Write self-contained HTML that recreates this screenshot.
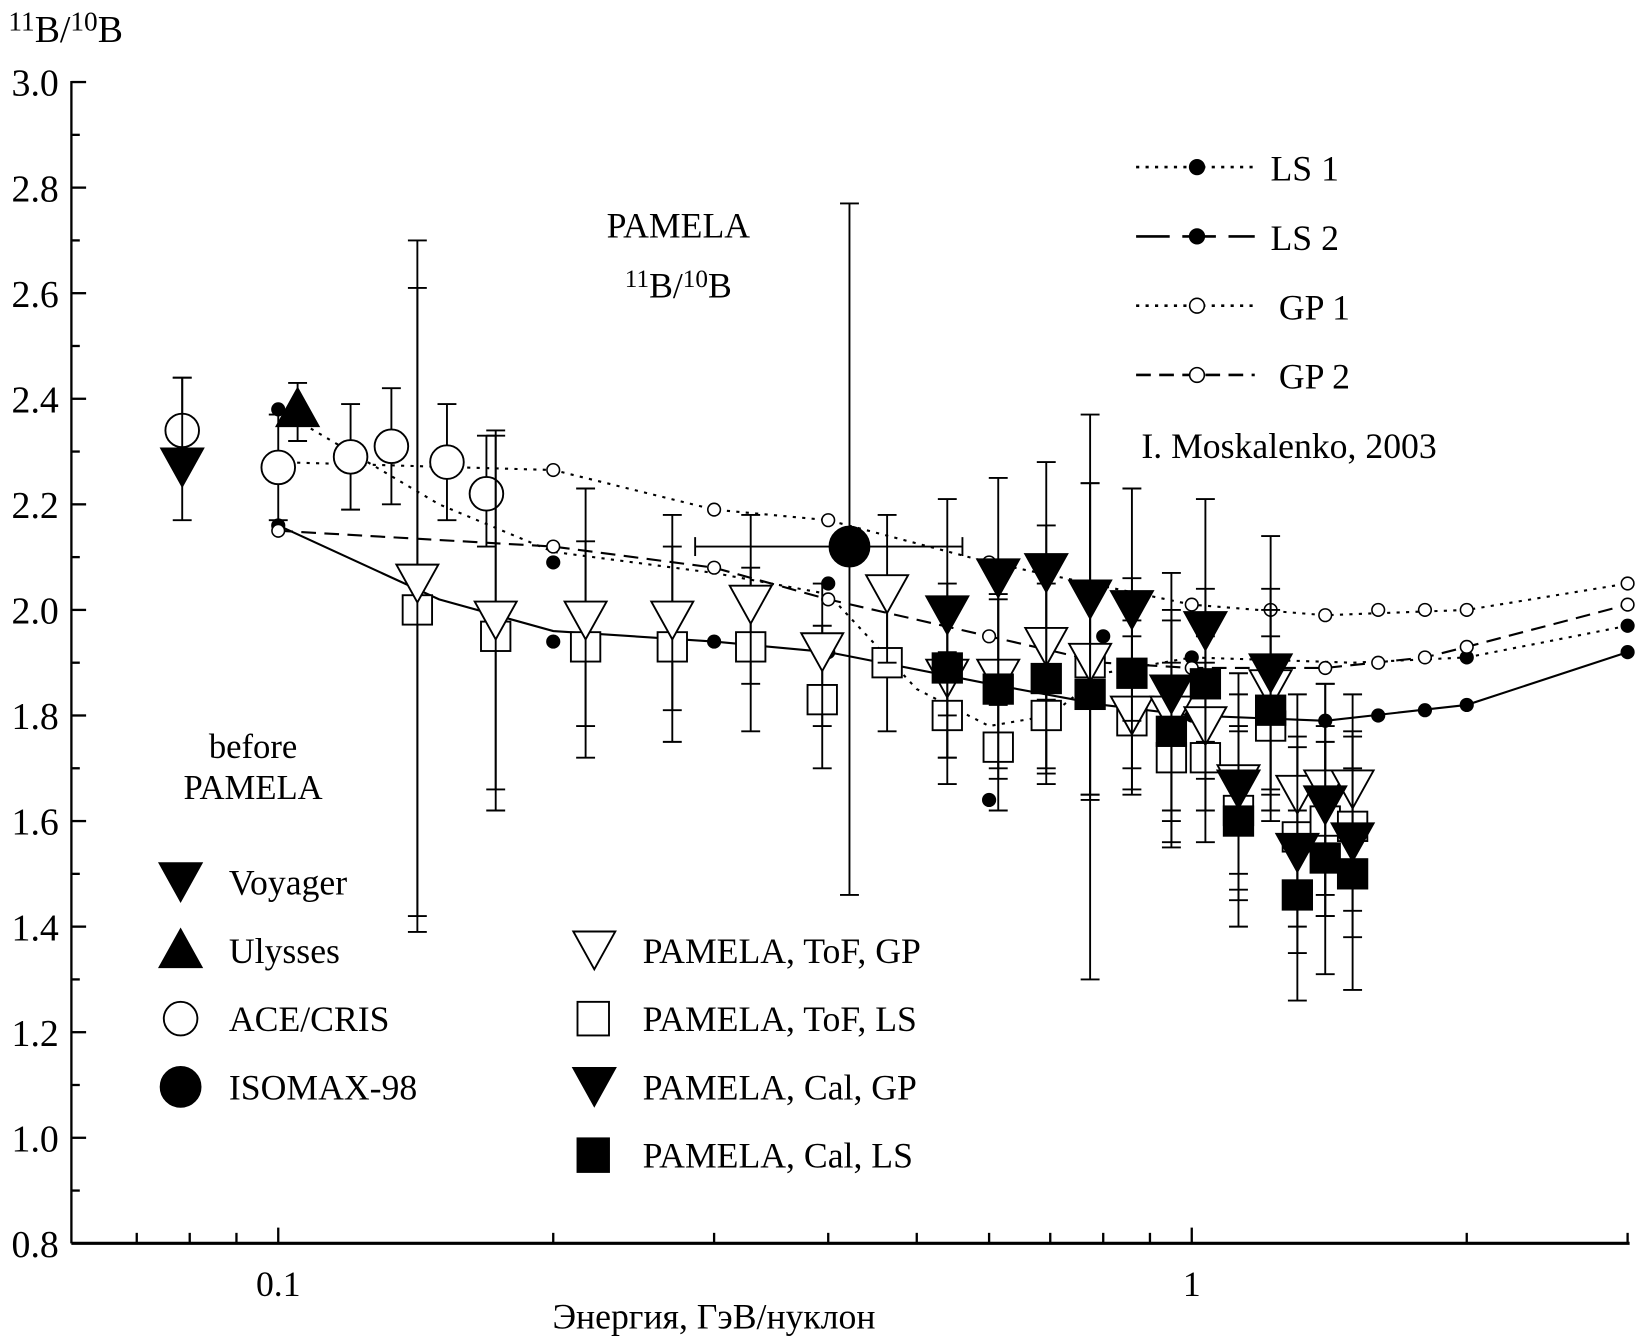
<!DOCTYPE html>
<html><head><meta charset="utf-8"><style>
html,body{margin:0;padding:0;background:#fff;}
svg{display:block;font-family:"Liberation Serif",serif;}
</style></head><body>
<svg id="chart" width="1638" height="1338" viewBox="0 0 1560 1274" xmlns="http://www.w3.org/2000/svg"></svg>
<script>
// ---- data ----
const xTicksMajor = [0.1, 1];
const xTickLabels = ["0.1", "1"];
const xTicksMinor = [0.07,0.08,0.09,0.2,0.3,0.4,0.5,0.6,0.7,0.8,0.9,2,3];
const yTicks = [0.8,1.0,1.2,1.4,1.6,1.8,2.0,2.2,2.4,2.6,2.8,3.0];
const yTickLabels = ["0.8","1.0","1.2","1.4","1.6","1.8","2.0","2.2","2.4","2.6","2.8","3.0"];

const voyagerE = [0.0785]; const voyagerV = [2.27]; const voyagerLo=[2.17]; const voyagerHi=[2.44];
const ulyssesE = [0.105]; const ulyssesV = [2.38]; const ulyssesLo=[2.32]; const ulyssesHi=[2.43];
const aceE = [0.0785,0.1,0.12,0.133,0.153,0.169];
const aceV = [2.34,2.27,2.29,2.31,2.28,2.22];
const aceLo = [2.29,2.17,2.19,2.20,2.17,2.12];
const aceHi = [2.44,2.37,2.39,2.42,2.39,2.33];
const isomaxE=[0.422]; const isomaxV=[2.12]; const isomaxLo=[1.46]; const isomaxHi=[2.77];
const isomaxELo=[0.286]; const isomaxEHi=[0.561];

const pamE = [0.142,0.173,0.217,0.27,0.329,0.394,0.464,0.54,0.614,0.693,0.774,0.86,0.95,1.035,1.125,1.22,1.305,1.40,1.50];
const tofGPV = [2.05,1.98,1.98,1.98,2.01,1.92,2.03,1.87,1.87,1.93,1.90,1.80,1.80,1.78,1.67,1.85,1.65,1.66,1.66];
const tofGPLo= [1.42,1.66,1.78,1.81,1.86,1.78,1.90,1.72,1.70,1.70,1.65,1.66,1.60,1.62,1.50,1.66,1.45,1.46,1.49];
const tofGPHi= [2.70,2.34,2.23,2.18,2.18,2.05,2.18,2.02,2.03,2.16,2.24,1.98,2.00,1.95,1.84,2.04,1.84,1.86,1.84];
const tofLSV = [2.00,1.95,1.93,1.93,1.93,1.83,1.90,1.80,1.74,1.80,1.90,1.79,1.72,1.72,1.62,1.78,1.57,1.60,1.59];
const tofLSLo= [1.39,1.62,1.72,1.75,1.77,1.70,1.77,1.67,1.62,1.67,1.65,1.65,1.55,1.56,1.45,1.60,1.40,1.42,1.43];
const tofLSHi= [2.61,2.33,2.13,2.12,2.08,1.97,2.03,1.92,1.87,1.95,2.24,1.95,1.90,1.90,1.78,1.95,1.74,1.78,1.76];
const calE = [0.54,0.614,0.693,0.774,0.86,0.95,1.035,1.125,1.22,1.305,1.40,1.50];
const calGPV = [1.99,2.06,2.07,2.02,2.00,1.84,1.96,1.66,1.88,1.54,1.63,1.56];
const calGPLo= [1.80,1.82,1.83,1.30,1.79,1.62,1.75,1.47,1.65,1.35,1.42,1.38];
const calGPHi= [2.21,2.25,2.28,2.37,2.23,2.07,2.21,1.88,2.14,1.76,1.86,1.77];
const calLSV = [1.89,1.85,1.87,1.84,1.88,1.77,1.86,1.60,1.81,1.46,1.53,1.50];
const calLSLo= [1.72,1.68,1.69,1.64,1.70,1.56,1.68,1.40,1.62,1.26,1.31,1.28];
const calLSHi= [2.05,2.02,2.05,2.04,2.06,1.98,2.04,1.77,2.00,1.62,1.75,1.70];

const ls1LineE=[0.1,0.15,0.2,0.3,0.4,0.5,0.6,0.7,0.8,1.0,1.5,2.0,3.0];
const ls1LineV=[2.38,2.20,2.11,2.07,2.03,1.85,1.78,1.80,1.88,1.91,1.90,1.91,1.97];
const ls1DotE=[0.1,0.2,0.4,0.6,0.8,1.0,2.0,3.0];
const ls1DotV=[2.38,2.09,2.05,1.64,1.95,1.91,1.91,1.97];
const ls2LineE=[0.1,0.15,0.2,0.3,0.4,0.6,0.8,1.0,1.4,2.0,3.0];
const ls2LineV=[2.16,2.02,1.96,1.94,1.92,1.86,1.82,1.80,1.79,1.82,1.92];
const ls2DotE=[0.1,0.2,0.3,0.4,1.0,1.4,1.6,1.8,2.0,3.0];
const ls2DotV=[2.16,1.94,1.94,1.92,1.80,1.79,1.80,1.81,1.82,1.92];
const gp1LineE=[0.1,0.2,0.3,0.4,0.6,1.0,1.4,2.0,3.0];
const gp1LineV=[2.28,2.265,2.19,2.17,2.09,2.01,1.99,2.0,2.05];
const gp1DotE=[0.2,0.3,0.4,0.6,1.0,1.22,1.4,1.6,1.8,2.0,3.0];
const gp1DotV=[2.265,2.19,2.17,2.09,2.01,2.0,1.99,2.0,2.0,2.0,2.05];
const gp2LineE=[0.1,0.2,0.3,0.4,0.6,0.8,1.0,1.4,1.8,2.0,3.0];
const gp2LineV=[2.15,2.12,2.08,2.02,1.95,1.90,1.89,1.89,1.91,1.93,2.01];
const gp2DotE=[0.1,0.2,0.3,0.4,0.6,1.0,1.4,1.6,1.8,2.0,3.0];
const gp2DotV=[2.15,2.12,2.08,2.02,1.95,1.89,1.89,1.90,1.91,1.93,2.01];

// ---- scales ----
const X0=1135, DEC=870, Y0=1184, YPER=(1184-78)/2.2;
const XMIN=68, XMAX=1552;
const xs=e=>X0+DEC*Math.log10(e);
const ys=v=>Y0-(v-0.8)*YPER;
const NS="http://www.w3.org/2000/svg";
const svg=document.getElementById('chart');
function mk(tag,attrs,parent){const el=document.createElementNS(NS,tag);for(const k in attrs)el.setAttribute(k,attrs[k]);(parent||svg).appendChild(el);return el;}
function txt(x,y,s,size,anchor,name,parent){const t=mk('text',{x:x,y:y,'font-size':size,'text-anchor':anchor||'start'},parent);t.textContent=s;


return t;}

// axes
const axes=mk('g',{stroke:'#000','stroke-width':2.2,fill:'none'});


mk('line',{x1:XMIN,y1:ys(3.0)-1,x2:XMIN,y2:ys(0.8)},axes);
mk('line',{x1:XMIN,y1:ys(0.8),x2:XMAX,y2:ys(0.8),'stroke-width':3},axes);
yTicks.forEach((v,i)=>{const y=ys(v);mk('line',{x1:XMIN,y1:y,x2:XMIN+14,y2:y},axes);
 txt(56,y+13,yTickLabels[i],36,'end','y-tick-label');
 if(v<3){const ym=ys(v+0.1);mk('line',{x1:XMIN,y1:ym,x2:XMIN+8,y2:ym},axes);}});
xTicksMajor.forEach((e,i)=>{const x=xs(e);mk('line',{x1:x,y1:ys(0.8),x2:x,y2:ys(0.8)-15},axes);txt(x,1234,xTickLabels[i],34,'middle','x-tick-label');});
xTicksMinor.forEach(e=>{const x=xs(e);mk('line',{x1:x,y1:ys(0.8),x2:x,y2:ys(0.8)-10},axes);});
txt(680,1265,"Энергия, ГэВ/нуклон",34,'middle','x-axis-title');
const yt=txt(8,40,"",36,'start','y-axis-title');
yt.innerHTML='<tspan font-size="26" dy="-11">11</tspan><tspan dy="11">B/</tspan><tspan font-size="26" dy="-11">10</tspan><tspan dy="11">B</tspan>';

// curves
function curve(E,V,dash,name){const p=mk('polyline',{points:E.map((e,i)=>xs(e)+','+ys(V[i])).join(' '),fill:'none',stroke:'#000','stroke-width':2,'stroke-dasharray':dash});

}
function dots(E,V,filled,name){E.forEach((e,i)=>{const c=mk('circle',{cx:xs(e),cy:ys(V[i]),r:6,fill:filled?'#000':'#fff',stroke:'#000','stroke-width':1.5});

});}
curve(ls1LineE,ls1LineV,'3 6','ls1-curve');
curve(ls2LineE,ls2LineV,'none','ls2-curve');
curve(gp1LineE,gp1LineV,'3 6','gp1-curve');
curve(gp2LineE,gp2LineV,'14 8','gp2-curve');
dots(ls1DotE,ls1DotV,true,'ls1-dot');dots(ls2DotE,ls2DotV,true,'ls2-dot');
dots(gp1DotE,gp1DotV,false,'gp1-dot');dots(gp2DotE,gp2DotV,false,'gp2-dot');

// markers
function marker(type,x,y,parent){const g=parent||svg;let el;
 if(type==='tridown')el=mk('polygon',{points:`${x-20},${y-18} ${x+20},${y-18} ${x},${y+18}`},g);
 else if(type==='triup')el=mk('polygon',{points:`${x-20},${y+16} ${x+20},${y+16} ${x},${y-20}`},g);
 else if(type==='square')el=mk('rect',{x:x-14,y:y-14,width:28,height:28},g);
 else if(type==='circle')el=mk('circle',{cx:x,cy:y,r:16},g);
 else if(type==='bigcircle')el=mk('circle',{cx:x,cy:y,r:19},g);
 return el;}
function series(E,V,Lo,Hi,type,filled,name){E.forEach((e,i)=>{const g=mk('g',{stroke:'#000','stroke-width':1.8,fill:filled?'#000':'#fff'});
 
 
 const x=xs(e);
 mk('line',{x1:x,y1:ys(Lo[i]),x2:x,y2:ys(Hi[i])},g);
 mk('line',{x1:x-9,y1:ys(Lo[i]),x2:x+9,y2:ys(Lo[i])},g);
 mk('line',{x1:x-9,y1:ys(Hi[i]),x2:x+9,y2:ys(Hi[i])},g);
 marker(type,x,ys(V[i]),g);});}
series(aceE,aceV,aceLo,aceHi,'circle',false,'ace-cris-point');
series(voyagerE,voyagerV,voyagerLo,voyagerHi,'tridown',true,'voyager-point');
series(ulyssesE,ulyssesV,ulyssesLo,ulyssesHi,'triup',true,'ulysses-point');
series(pamE,tofLSV,tofLSLo,tofLSHi,'square',false,'pamela-tof-ls-point');
series(pamE,tofGPV,tofGPLo,tofGPHi,'tridown',false,'pamela-tof-gp-point');
series(calE,calLSV,calLSLo,calLSHi,'square',true,'pamela-cal-ls-point');
series(calE,calGPV,calGPLo,calGPHi,'tridown',true,'pamela-cal-gp-point');
isomaxE.forEach((e,i)=>{const g=mk('g',{stroke:'#000','stroke-width':1.8,fill:'#000'});
 
 
 const x=xs(e),y=ys(isomaxV[i]);
 mk('line',{x1:x,y1:ys(isomaxLo[i]),x2:x,y2:ys(isomaxHi[i])},g);
 mk('line',{x1:x-9,y1:ys(isomaxLo[i]),x2:x+9,y2:ys(isomaxLo[i])},g);
 mk('line',{x1:x-9,y1:ys(isomaxHi[i]),x2:x+9,y2:ys(isomaxHi[i])},g);
 mk('line',{x1:xs(isomaxELo[i]),y1:y,x2:xs(isomaxEHi[i]),y2:y},g);
 mk('line',{x1:xs(isomaxELo[i]),y1:y-9,x2:xs(isomaxELo[i]),y2:y+9},g);
 mk('line',{x1:xs(isomaxEHi[i]),y1:y-9,x2:xs(isomaxEHi[i]),y2:y+9},g);
 marker('bigcircle',x,y,g);});

// annotations
txt(646,226,"PAMELA",34,'middle','pamela-title');
const pt=txt(646,283,"",34,'middle','pamela-ratio-title');
pt.innerHTML='<tspan font-size="24" dy="-10">11</tspan><tspan dy="10">B/</tspan><tspan font-size="24" dy="-10">10</tspan><tspan dy="10">B</tspan>';
txt(241,722,"before",33,'middle','before-label');
txt(241,761,"PAMELA",33,'middle','before-pamela-label');
txt(1087,436,"I. Moskalenko, 2003",34,'start','moskalenko-label');

// model legend
const modelLeg=[["LS 1",'3 6',true],["LS 2",'32 12',true],["GP 1",'3 6',false],["GP 2",'14 8',false]];
modelLeg.forEach((m,i)=>{const y=159+i*66;const g=mk('g',{});
 
 
 mk('line',{x1:1082,y1:y,x2:1195,y2:y,stroke:'#000','stroke-width':2.5,'stroke-dasharray':m[1]},g);
 mk('circle',{cx:1140,cy:y,r:7,fill:m[2]?'#000':'#fff',stroke:'#000','stroke-width':1.5},g);
 txt(m[2]?1210:1218,y+13,m[0],34,'start','model-legend-label',g);});

// marker legends
const leg1=[["Voyager",'tridown',true],["Ulysses",'triup',true],["ACE/CRIS",'circle',false],["ISOMAX-98",'bigcircle',true]];
leg1.forEach((m,i)=>{const y=840+i*65;const g=mk('g',{stroke:'#000','stroke-width':1.8,fill:m[2]?'#000':'#fff'});
 
 
 marker(m[1],172,y,g);
 const t=txt(218,y+12,m[0],34,'start','legend-label',g);t.setAttribute('stroke','none');t.setAttribute('fill','#000');});
const leg2=[["PAMELA, ToF, GP",'tridown',false],["PAMELA, ToF, LS",'square',false],["PAMELA, Cal, GP",'tridown',true],["PAMELA, Cal, LS",'square',true]];
leg2.forEach((m,i)=>{const y=905+i*65;const g=mk('g',{stroke:'#000','stroke-width':1.8,fill:m[2]?'#000':'#fff'});
 
 
 if(m[1]==='square')mk('rect',{x:550,y:y-16,width:30,height:32},g);else marker(m[1],566,y,g);
 const t=txt(612,y+12,m[0],34,'start','legend-label',g);t.setAttribute('stroke','none');t.setAttribute('fill','#000');});
</script>
</body></html>
